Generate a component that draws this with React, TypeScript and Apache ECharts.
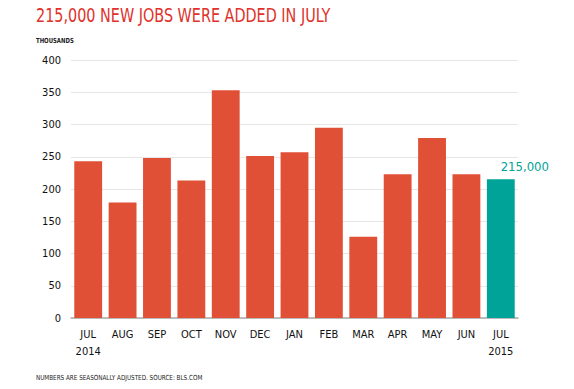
import React, { useEffect, useRef } from "react";
import * as echarts from "echarts";

const categories = ["JUL\n2014", "AUG", "SEP", "OCT", "NOV", "DEC", "JAN", "FEB", "MAR", "APR", "MAY", "JUN", "JUL\n2015"];
const jobs = [243, 179, 248, 213, 353, 251, 257, 295, 126, 223, 279, 223, 215];
const yTicks = [0, 50, 100, 150, 200, 250, 300, 350, 400];
const highlightLabel = "215,000";

const RED = "#E05037";
const TEAL = "#00A398";
const FONT = "'DejaVu Sans Condensed', 'Roboto', sans-serif";

export default function App() {
  const ref = useRef<HTMLDivElement>(null);
  useEffect(() => {
    if (!ref.current) return;
    const chart = echarts.init(ref.current, null, { renderer: "svg" });
    const last = jobs.length - 1;
    chart.setOption({
      animation: false,
      backgroundColor: "#ffffff",
      graphic: [
        {
          type: "text",
          x: 36,
          y: 5,
          scaleX: 0.8,
          style: {
            text: "215,000 NEW JOBS WERE ADDED IN JULY",
            fill: "#E0322B",
            font: `20px ${FONT}`,
            verticalAlign: "top",
          },
        },
        {
          type: "text",
          x: 36,
          y: 37,
          scaleX: 0.85,
          style: { text: "THOUSANDS", fill: "#222", font: `bold 7px ${FONT}`, verticalAlign: "top" },
        },
        {
          type: "text",
          x: 36,
          y: 374,
          scaleX: 0.9,
          style: { text: "NUMBERS ARE SEASONALLY ADJUSTED. SOURCE: BLS.COM", fill: "#222", font: `7px ${FONT}`, verticalAlign: "top" },
        },
      ],
      grid: { left: 71, right: 56, top: 60, bottom: 71 },
      xAxis: {
        type: "category",
        data: categories,
        axisLine: { lineStyle: { color: "#aaaaaa", width: 1.5 } },
        axisTick: { show: false },
        axisLabel: { color: "#111", fontSize: 11, fontFamily: FONT, lineHeight: 17, margin: 8 },
      },
      yAxis: {
        type: "value",
        min: yTicks[0],
        max: yTicks[yTicks.length - 1],
        interval: 50,
        axisLine: { show: false },
        axisTick: { show: false },
        splitLine: { lineStyle: { color: "#e6e6e6", width: 1 } },
        axisLabel: { color: "#111", fontSize: 11, fontFamily: FONT, margin: 10 },
      },
      series: [
        {
          type: "bar",
          barCategoryGap: "19%",
          data: jobs.map((v, i) => ({
            value: v,
            itemStyle: { color: i === last ? TEAL : RED },
            label:
              i === last
                ? {
                    show: true,
                    position: "top",
                    offset: [24, -1],
                    formatter: highlightLabel,
                    color: TEAL,
                    fontSize: 13,
                    fontFamily: FONT,
                  }
                : { show: false },
          })),
        },
      ],
    });
    return () => chart.dispose();
  }, []);
  return <div ref={ref} style={{ width: 574, height: 389, position: "absolute", left: 0, top: 0 }} />;
}
